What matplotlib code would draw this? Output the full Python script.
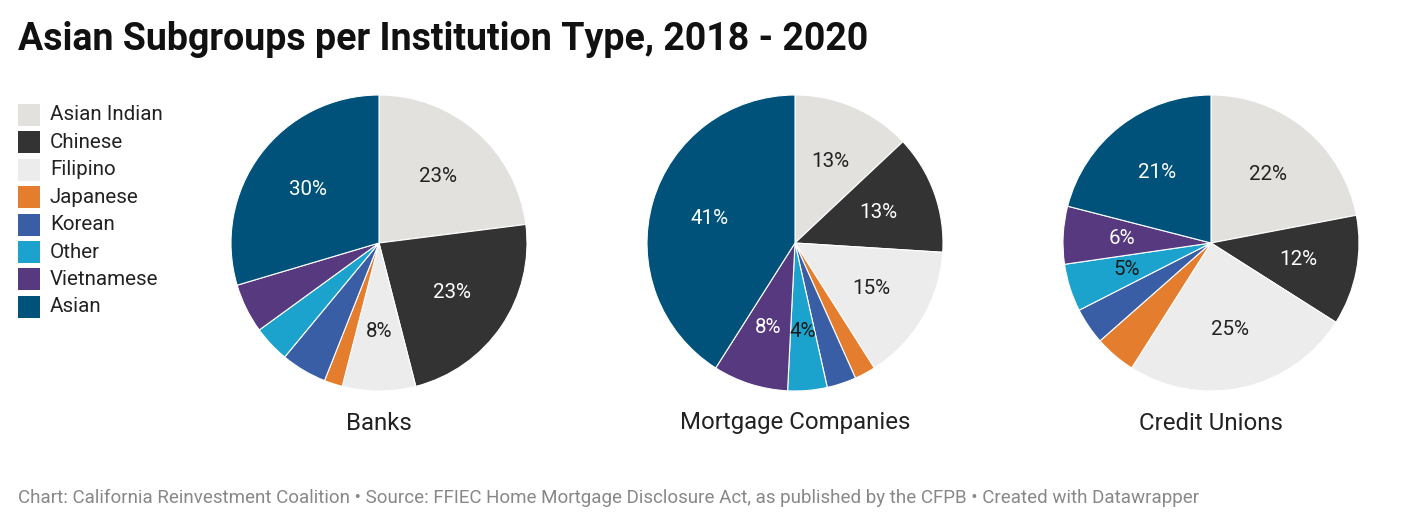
import matplotlib.pyplot as plt
from matplotlib.patches import Rectangle

plt.rcParams['font.family'] = ['Roboto', 'DejaVu Sans']

groups = ['Asian Indian', 'Chinese', 'Filipino', 'Japanese', 'Korean',
          'Other', 'Vietnamese', 'Asian']
colors = ['#e2e1dd', '#333333', '#ececec', '#e57d2e', '#3a5ea6',
          '#1ba3cd', '#56397f', '#00527a']
text_colors = ['#222222', 'white', '#222222', '#222222', 'white',
               '#1a1a1a', 'white', 'white']

titles = ['Banks', 'Mortgage Companies', 'Credit Unions']
banks = [23, 23, 8, 2, 5, 4, 5.4, 29.6]
mortgage = [13, 13, 15, 2.3, 3.2, 4.3, 8.2, 41]
credit = [22, 12, 25, 4.5, 4, 5.2, 6.3, 21]
values = [banks, mortgage, credit]
# which slices carry a label
shown = [
    [1, 1, 1, 0, 0, 0, 0, 1],
    [1, 1, 1, 0, 0, 1, 1, 1],
    [1, 1, 1, 0, 0, 1, 1, 1],
]

W, H = 1427, 528
fig = plt.figure(figsize=(W / 100, H / 100), dpi=100)

fig.text(18 / W, 1 - 40 / H, 'Asian Subgroups per Institution Type, 2018 - 2020',
         fontsize=27, fontweight='bold', color='#111111', va='center', ha='left')

# legend
for i, g in enumerate(groups):
    yc = 115 + i * 27.4
    fig.add_artist(Rectangle((18 / W, 1 - (yc + 11) / H), 22 / W, 22 / H,
                             transform=fig.transFigure, facecolor=colors[i],
                             edgecolor='none'))
    fig.text(50 / W, 1 - yc / H, g, fontsize=14.8, color='#222222',
             va='center', ha='left')

centers = [379, 795, 1211]
r = 148
for k in range(3):
    cx, cy = centers[k], 243
    ax = fig.add_axes([(cx - r) / W, 1 - (cy + r) / H, 2 * r / W, 2 * r / H])
    wedges, texts = ax.pie(values[k], colors=colors, startangle=90,
                           counterclock=False, radius=1,
                           labels=[f'{round(v)}%' if s else '' for v, s in zip(values[k], shown[k])],
                           labeldistance=0.6,
                           wedgeprops=dict(edgecolor='white', linewidth=0.8))
    for j, t in enumerate(texts):
        t.set_color(text_colors[j])
        t.set_fontsize(14.8)
        t.set_ha('center')
        t.set_va('center')
    ax.set_xlim(-1, 1)
    ax.set_ylim(-1, 1)
    ax.set_aspect('equal')
    ax.axis('off')
    fig.text(cx / W, 1 - 423 / H, titles[k], fontsize=17.3, color='#222222',
             ha='center', va='center')

fig.text(18 / W, 1 - 498 / H,
         'Chart: California Reinvestment Coalition \u2022 Source: FFIEC Home Mortgage '
         'Disclosure Act, as published by the CFPB \u2022 Created with Datawrapper',
         fontsize=13.5, color='#888888', ha='left', va='center')

fig.savefig('out.png', dpi=100)
